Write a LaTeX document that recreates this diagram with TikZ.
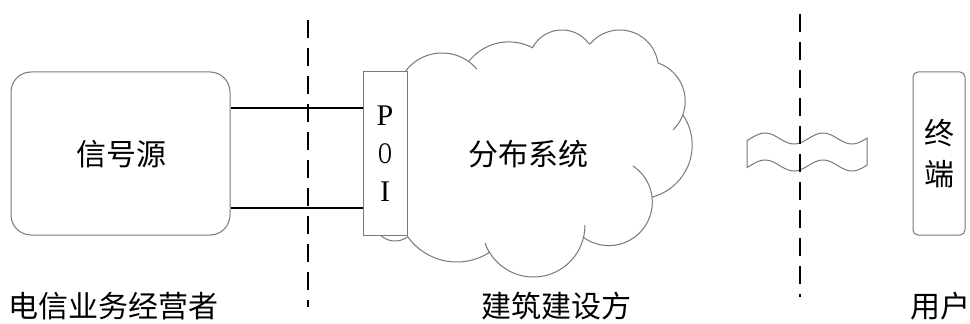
\documentclass[tikz,border=0pt]{standalone}
\usepackage{graphicx}
\usepackage{fontspec}
\setmainfont{Liberation Serif}
\newfontfamily\cjk{Noto Sans CJK SC}
\definecolor{edgegray}{RGB}{120,120,120}
\begin{document}
\begin{tikzpicture}[x=0.75pt,y=-0.75pt,
  outline/.style={draw=edgegray,line width=0.75pt},
  boxrnd/.style={outline,fill=white,rounded corners=15pt,minimum width=164.25pt,minimum height=122.25pt,inner sep=0pt},
  poibox/.style={outline,fill=white,minimum width=33pt,minimum height=122.25pt,inner sep=0pt,align=center,
     font=\fontsize{22.5pt}{28.5pt}\selectfont},
  termbox/.style={outline,fill=white,rounded corners=3.75pt,minimum width=39pt,minimum height=122.25pt,inner sep=0pt,align=center,
     font=\cjk\fontsize{22.5pt}{30.75pt}\selectfont},
  cjklabel/.style={inner sep=0pt,font=\cjk\fontsize{22.5pt}{27pt}\selectfont},
  wire/.style={draw=black,line width=1.8pt},
  divider/.style={draw=black,line width=1.8pt,dash pattern=on 13.5pt off 7.5pt},
  cloudline/.style={draw=edgegray,line width=0.75pt}
]
\fill[white] (0,0) rectangle (970,324);
\useasboundingbox (0,0) rectangle (970,324);

% cloud (drawn from arcs)
\newcommand{\cloudarc}[5]{\draw[cloudline] plot[domain=#4:#5,samples=40,smooth] ({#1+#3*cos(\x)},{#2+#3*sin(\x)});}
\cloudarc{442}{98.6}{45.6}{-142.8}{-40.4}
\cloudarc{508.8}{92.6}{50.7}{-141.6}{-61.5}
\cloudarc{562}{63.4}{33.4}{-152}{-34.7}
\cloudarc{619.8}{68.6}{38.6}{-140.5}{-8.3}
\cloudarc{644.9}{101.1}{40.3}{-71}{45.8}
\cloudarc{638.5}{145.1}{53.7}{-34.1}{75.4}
\cloudarc{608.8}{202.1}{43.5}{-56.2}{126.5}
\cloudarc{533.4}{225.5}{51.5}{-0.6}{160.1}
\cloudarc{456.8}{201.8}{60.2}{56.5}{144.2}
\cloudarc{395}{220.3}{20.7}{52.1}{131.7}

% nodes
\node[boxrnd] (src) at (120.5,153.5) {};
\node[cjklabel] (srct) at (121,154) {信号源};
\node[poibox] (poi) at (385,153.5) {P\\\scalebox{0.62}[1]{O}\\I};
\node[cjklabel] (dist) at (528,154.5) {分布系统};
\node[termbox] (term) at (939,153.5) {终\\端};

% wave (break symbol)
\draw[outline] plot[domain=747:867,samples=80,smooth] (\x,{138.5-5.5*cos(6.2069*(\x-765))})
  -- plot[domain=867:747,samples=80,smooth] (\x,{165.5-5.5*cos(6.2069*(\x-765))}) -- cycle;

% connectors
\coordinate (ya) at (0,108);
\coordinate (yb) at (0,208);
\draw[wire] (src.east |- ya) -- (poi.west |- ya);
\draw[wire] (src.east |- yb) -- (poi.west |- yb);

% dividers
\coordinate (d1t) at (308,20);
\coordinate (d1b) at (308,307);
\coordinate (d2t) at (800,14);
\coordinate (d2b) at (800,297);
\draw[divider] (d1t) -- (d1b);
\draw[divider] (d2t) -- (d2b);

% bottom labels
\node[cjklabel] (lab1) at (113,306) {电信业务经营者};
\node[cjklabel] (lab2) at (556,306) {建筑建设方};
\node[cjklabel] (lab3) at (940,306) {用户};
\end{tikzpicture}
\end{document}
